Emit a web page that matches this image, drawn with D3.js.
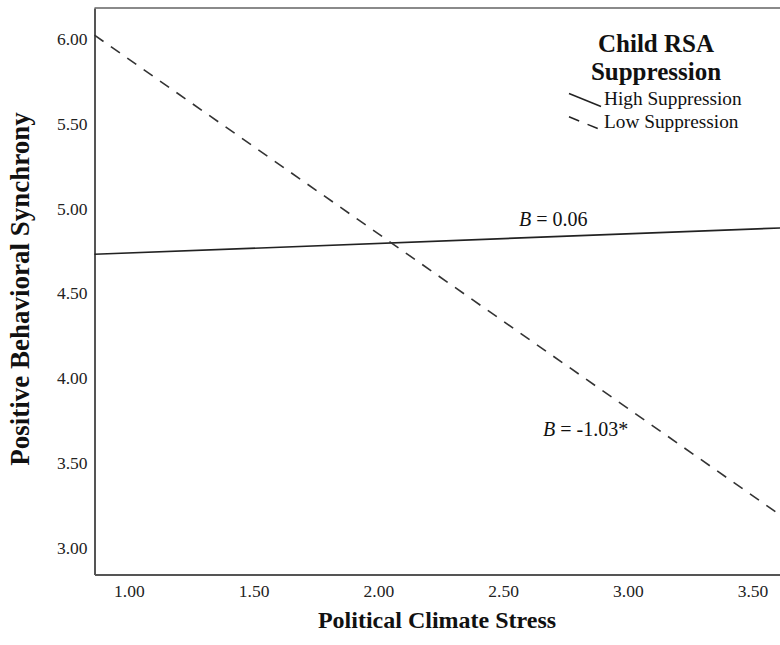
<!DOCTYPE html>
<html>
<head>
<meta charset="utf-8">
<script src="https://cdn.jsdelivr.net/npm/d3@7"></script>
<style>
  body { margin: 0; background: #fff; }
  svg text { font-family: "Liberation Serif", "Times New Roman", serif; fill: #111; }
</style>
</head>
<body>
<div id="chart"></div>
<script>
// axis extents and ticks
const xDomain = [0.862, 3.61];
const yDomain = [2.845, 6.18];
const xTicks = [1.00, 1.50, 2.00, 2.50, 3.00, 3.50];
const yTicks = [3.00, 3.50, 4.00, 4.50, 5.00, 5.50, 6.00];

// simple slopes (endpoints)
const highSupp = [{x: 0.862, y: 4.73}, {x: 3.61, y: 4.885}];
const lowSupp = [{x: 0.862, y: 6.02}, {x: 3.61, y: 3.196}];

const legendItems = ['High Suppression', 'Low Suppression'];

var width = 780, height = 645;
var margin = {top: 8, right: 0, bottom: 70.5, left: 94.5};

var svg = d3.select('#chart').append('svg')
    .attr('width', width)
    .attr('height', height);

var x = d3.scaleLinear().domain(xDomain).range([margin.left, width - margin.right]);
var y = d3.scaleLinear().domain(yDomain).range([height - margin.bottom, margin.top]);

// top frame line
svg.append('line')
    .attr('x1', margin.left).attr('x2', width)
    .attr('y1', margin.top).attr('y2', margin.top)
    .style('stroke', '#8a8a8a').style('stroke-width', 2);

// axes
var xAxis = svg.append('g')
    .attr('transform', 'translate(0,' + (height - margin.bottom) + ')')
    .call(d3.axisBottom(x).tickValues(xTicks).tickFormat(d3.format('.2f')).tickSize(0).tickPadding(10));
var yAxis = svg.append('g')
    .attr('transform', 'translate(' + margin.left + ',0)')
    .call(d3.axisLeft(y).tickValues(yTicks).tickFormat(d3.format('.2f')).tickSize(0).tickPadding(7));

[xAxis, yAxis].forEach(function(a) {
    a.select('.domain').style('stroke', '#555').style('stroke-width', 2);
    a.selectAll('text').style('font-size', '17.5px').style('font-family', '"Liberation Serif", serif').style('fill', '#222');
});

// lines
var line = d3.line().x(function(d) { return x(d.x); }).y(function(d) { return y(d.y); });

svg.append('path')
    .datum(highSupp)
    .attr('d', line)
    .style('fill', 'none').style('stroke', '#222').style('stroke-width', 1.6);

svg.append('path')
    .datum(lowSupp)
    .attr('d', line)
    .style('fill', 'none').style('stroke', '#333').style('stroke-width', 1.6)
    .style('stroke-dasharray', '11,9');

// annotations
var ann1 = svg.append('text').attr('x', 519).attr('y', 226).style('font-size', '20px');
ann1.append('tspan').style('font-style', 'italic').text('B');
ann1.append('tspan').text(' = 0.06');

var ann2 = svg.append('text').attr('x', 543).attr('y', 436).style('font-size', '20px');
ann2.append('tspan').style('font-style', 'italic').text('B');
ann2.append('tspan').text(' = -1.03*');

// axis titles
svg.append('text')
    .attr('x', 437).attr('y', 628)
    .attr('text-anchor', 'middle')
    .style('font-size', '24px').style('font-weight', 'bold')
    .text('Political Climate Stress');

svg.append('text')
    .attr('transform', 'translate(29,289) rotate(-90)')
    .attr('text-anchor', 'middle')
    .style('font-size', '27px').style('font-weight', 'bold')
    .text('Positive Behavioral Synchrony');

// legend
var legend = svg.append('g');
legend.append('text').attr('x', 656).attr('y', 52).attr('text-anchor', 'middle')
    .style('font-size', '25px').style('font-weight', 'bold').text('Child RSA');
legend.append('text').attr('x', 656).attr('y', 80).attr('text-anchor', 'middle')
    .style('font-size', '25px').style('font-weight', 'bold').text('Suppression');

legendItems.forEach(function(name, i) {
    var yy = 105 + i * 23.3;
    legend.append('line')
        .attr('x1', 569).attr('x2', 601)
        .attr('y1', yy - 11.5).attr('y2', yy + 1.5)
        .style('stroke', '#222').style('stroke-width', 1.5)
        .style('stroke-dasharray', i === 0 ? null : '11,9');
    legend.append('text').attr('x', 604).attr('y', yy)
        .style('font-size', '19.3px').text(name);
});
</script>
</body>
</html>
